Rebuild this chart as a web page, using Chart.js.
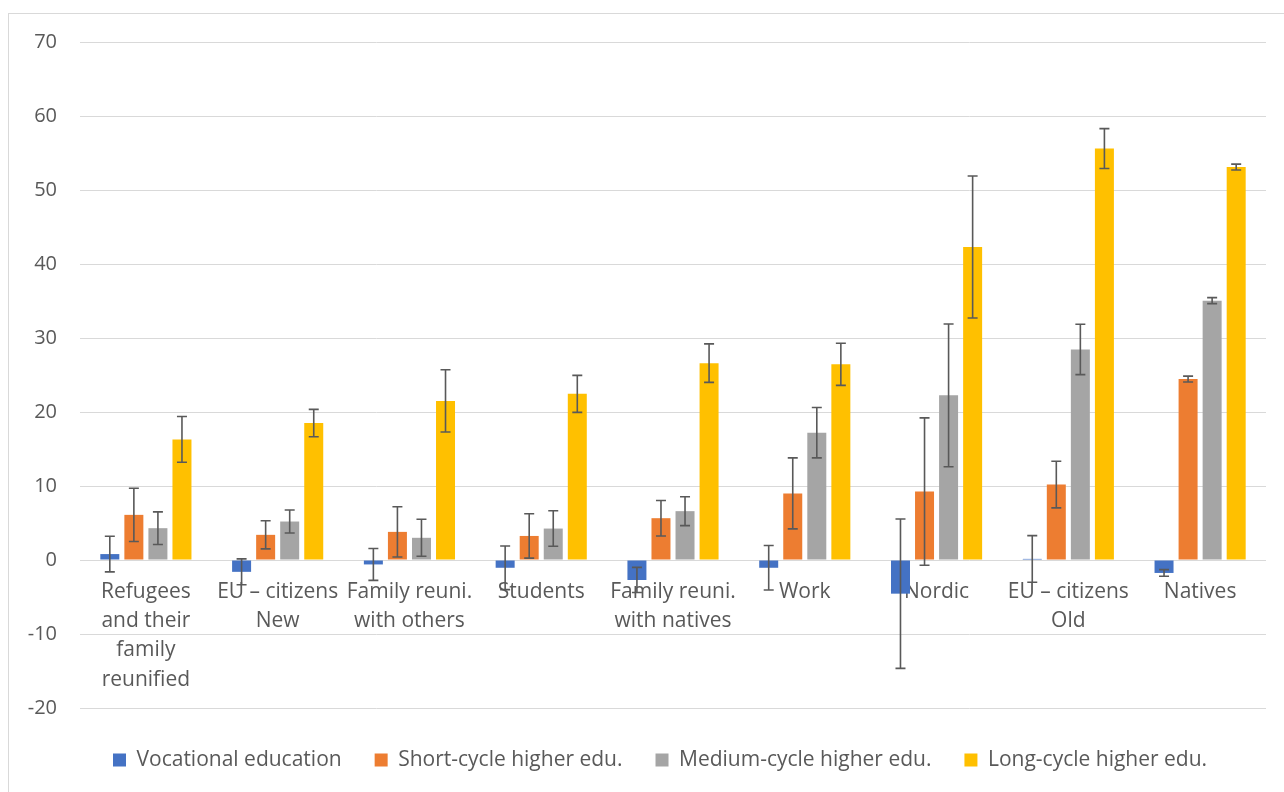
<!DOCTYPE html>
<html>
<head>
<meta charset="utf-8">
<script src="https://cdn.jsdelivr.net/npm/chart.js@4.4.1/dist/chart.umd.min.js"></script>
<style>
  html, body { margin: 0; padding: 0; background: #ffffff; }
  #wrap { width: 1284px; height: 792px; }
</style>
</head>
<body>
<div id="wrap"><canvas id="chart" width="1284" height="792"></canvas></div>
<script>
// Groups on the category axis (multi-line labels as arrays)
const categories = [
  ['Refugees', 'and their', 'family', 'reunified'],
  ['EU \u2013 citizens', 'New'],
  ['Family reuni.', 'with others'],
  'Students',
  ['Family reuni.', 'with natives'],
  'Work',
  'Nordic',
  ['EU \u2013 citizens', 'Old'],
  'Natives'
];

const seriesNames = [
  'Vocational education',
  'Short-cycle higher edu.',
  'Medium-cycle higher edu.',
  'Long-cycle higher edu.'
];

// Estimates per group, with the half-width of each error bar
const vocational    = [0.8, -1.6, -0.6, -1.05, -2.7, -1.05, -4.55, 0.15, -1.75];
const vocationalErr = [2.4, 1.75, 2.15, 2.95, 1.7, 3.0, 10.1, 3.15, 0.45];

const shortCycle    = [6.1, 3.4, 3.8, 3.25, 5.65, 9.0, 9.25, 10.2, 24.45];
const shortCycleErr = [3.6, 1.9, 3.4, 3.0, 2.4, 4.8, 9.95, 3.15, 0.4];

const mediumCycle    = [4.3, 5.2, 3.0, 4.25, 6.6, 17.2, 22.25, 28.45, 35.05];
const mediumCycleErr = [2.2, 1.55, 2.5, 2.4, 1.95, 3.4, 9.65, 3.4, 0.4];

const longCycle    = [16.3, 18.5, 21.5, 22.45, 26.6, 26.45, 42.3, 55.6, 53.1];
const longCycleErr = [3.1, 1.85, 4.2, 2.5, 2.6, 2.85, 9.6, 2.7, 0.4];

const yTicks = [-20, -10, 0, 10, 20, 30, 40, 50, 60, 70];

const colors = ['#4472C4', '#ED7D31', '#A5A5A5', '#FFC000'];
const textColor = '#595959';
const gridColor = '#D9D9D9';
const fontFamily = "'Open Sans', 'Noto Sans', sans-serif";

const values = [vocational, shortCycle, mediumCycle, longCycle];
const errors = [vocationalErr, shortCycleErr, mediumCycleErr, longCycleErr];

// White background and the thin frame around the whole chart
const frame = {
  id: 'frame',
  beforeDraw(chart) {
    const ctx = chart.ctx;
    ctx.save();
    ctx.fillStyle = '#ffffff';
    ctx.fillRect(0, 0, chart.width, chart.height);
    ctx.strokeStyle = gridColor;
    ctx.lineWidth = 1;
    ctx.strokeRect(8.5, 13.5, chart.width + 10, chart.height + 10);
    ctx.restore();
  }
};

// Symmetric error bars with caps, positioned through the y scale
const errorBars = {
  id: 'errorBars',
  afterDatasetsDraw(chart) {
    const ctx = chart.ctx;
    const y = chart.scales.y;
    ctx.save();
    ctx.strokeStyle = '#595959';
    ctx.lineWidth = 1.6;
    chart.data.datasets.forEach((ds, i) => {
      const meta = chart.getDatasetMeta(i);
      meta.data.forEach((bar, j) => {
        const v = ds.data[j];
        const e = ds.errorBars[j];
        const yHi = y.getPixelForValue(v + e);
        const yLo = y.getPixelForValue(v - e);
        const x = bar.x;
        const cap = 5;
        ctx.beginPath();
        ctx.moveTo(x, yHi);
        ctx.lineTo(x, yLo);
        ctx.moveTo(x - cap, yHi);
        ctx.lineTo(x + cap, yHi);
        ctx.moveTo(x - cap, yLo);
        ctx.lineTo(x + cap, yLo);
        ctx.stroke();
      });
    });
    ctx.restore();
  }
};

const datasets = seriesNames.map((name, i) => ({
  label: name,
  data: values[i],
  errorBars: errors[i],
  backgroundColor: colors[i],
  borderWidth: 0,
  categoryPercentage: 0.73,
  barPercentage: 0.79
}));

new Chart(document.getElementById('chart'), {
  type: 'bar',
  data: { labels: categories, datasets },
  plugins: [frame, errorBars],
  options: {
    responsive: false,
    animation: false,
    devicePixelRatio: 1,
    layout: { padding: { left: 10, right: 18, top: 42, bottom: 11.5 } },
    scales: {
      x: {
        position: { y: 0 },
        grid: { display: false, drawTicks: false },
        border: { display: false },
        ticks: {
          color: textColor,
          font: { family: fontFamily, size: 21, lineHeight: 1.395 },
          padding: 17,
          maxRotation: 0,
          autoSkip: false
        }
      },
      y: {
        min: yTicks[0],
        max: yTicks[yTicks.length - 1],
        afterFit(scale) { scale.width = 70; },
        grid: { color: gridColor, lineWidth: 1, drawTicks: false },
        border: { display: false },
        ticks: {
          stepSize: 10,
          color: textColor,
          font: { family: fontFamily, size: 20 },
          padding: 23,
          callback: (v) => (yTicks.includes(v) ? String(v) : '')
        }
      }
    },
    plugins: {
      tooltip: { enabled: false },
      legend: {
        position: 'bottom',
        fullSize: false,
        align: 'start',
        title: { display: true, text: '', font: { size: 5, lineHeight: 1 }, padding: { top: 3.5, bottom: 0 } },
        labels: {
          color: textColor,
          font: { family: fontFamily, size: 21 },
          boxWidth: 13,
          boxHeight: 13,
          padding: 33
        }
      }
    }
  }
});
</script>
</body>
</html>
